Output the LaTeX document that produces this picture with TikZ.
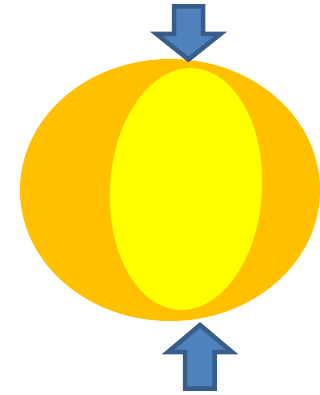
\documentclass[tikz,border=0pt]{standalone}
\definecolor{outerorange}{HTML}{FFC000}
\definecolor{inneryellow}{HTML}{FFFF00}
\definecolor{arrowfill}{HTML}{4F81BD}
\definecolor{arrowline}{HTML}{385D8A}
\begin{document}
\begin{tikzpicture}[x=1pt,y=-1pt,
  blockarrow/.style={fill=arrowfill,draw=arrowline,line width=4.5pt,line join=miter}]
\useasboundingbox (0,0) rectangle (320,395);
\clip (0,0) rectangle (320,395);
% outer ellipse
\fill[outerorange] (170,190) ellipse [x radius=150, y radius=131];
% inner ellipse
\fill[inneryellow,rotate around={-3.5:(186,189)}] (186,189) ellipse [x radius=76, y radius=121];
% top arrow (pointing down)
\draw[blockarrow] (174,6.5) -- (203,6.5) -- (203,34) -- (220.5,34) -- (188.5,59.5) -- (156.5,34) -- (174,34) -- cycle;
% bottom arrow (pointing up)
\draw[blockarrow] (185,388.5) -- (214.5,388.5) -- (214.5,352) -- (232,352) -- (200,325) -- (168,352) -- (185,352) -- cycle;
\end{tikzpicture}
\end{document}
